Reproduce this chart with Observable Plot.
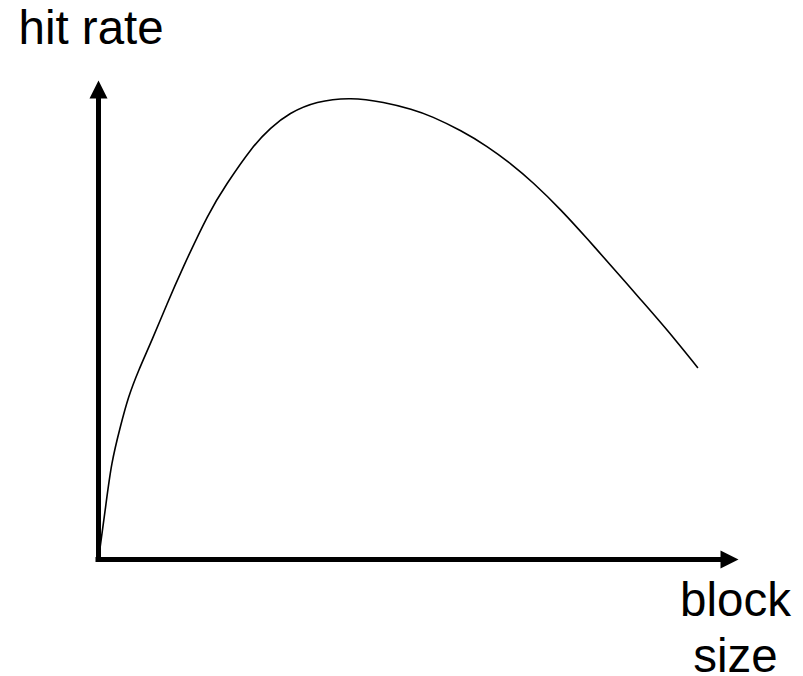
<!DOCTYPE html>
<html><head><meta charset="utf-8">
<script src="https://cdn.jsdelivr.net/npm/d3@7"></script>
<script src="https://cdn.jsdelivr.net/npm/@observablehq/plot@0.6"></script>
<style>html,body{margin:0;padding:0;background:#fff}</style>
</head><body><div id="chart"></div>
<script>
// (arbitrary units 0–10 on both axes)
const blockSize = [0, 0.11, 0.21, 0.34, 0.47, 0.63, 0.84, 1.07, 1.33, 1.70, 2.01, 2.38, 2.69, 3.00, 3.42, 3.94, 4.45, 4.88, 5.23, 5.66, 6.07, 6.44, 6.80, 7.22, 7.64, 8.05, 8.47, 8.89, 9.36];
const hitRate   = [0, 1.09, 2.00, 2.76, 3.38, 3.95, 4.60, 5.33, 6.12, 7.15, 7.85, 8.55, 9.00, 9.31, 9.54, 9.62, 9.54, 9.40, 9.23, 8.95, 8.62, 8.26, 7.85, 7.30, 6.69, 6.07, 5.43, 4.78, 4.01];
const yLabel = "hit rate";
const xLabel = "block size";
const axisMax = 10;

const curve = blockSize.map((x, i) => ({x, y: hitRate[i]}));

// filled triangular arrowhead, tip at the anchor point
const arrowHead = {
  draw(ctx) {
    ctx.moveTo(0, 0);
    ctx.lineTo(9, 18);
    ctx.lineTo(-9, 18);
    ctx.closePath();
  }
};

const font = "Liberation Sans, Arial, Helvetica, sans-serif";

const chart = Plot.plot({
  width: 803,
  height: 676,
  marginLeft: 98,
  marginRight: 65,
  marginTop: 80,
  marginBottom: 117,
  x: {domain: [0, axisMax], axis: null},
  y: {domain: [0, axisMax], axis: null},
  style: {background: "white"},
  marks: [
    Plot.line(curve, {x: "x", y: "y", curve: "natural", stroke: "black", strokeWidth: 1.6}),
    Plot.ruleX([0], {y1: axisMax, y2: 0, insetTop: 16, stroke: "black", strokeWidth: 5, strokeLinecap: "square"}),
    Plot.ruleY([0], {x1: 0, x2: axisMax, insetRight: 16, stroke: "black", strokeWidth: 5, strokeLinecap: "square"}),
    Plot.dot([{x: 0, y: axisMax}], {x: "x", y: "y", symbol: arrowHead, r: 9, fill: "black", stroke: "none"}),
    Plot.dot([{x: axisMax, y: 0}], {x: "x", y: "y", symbol: arrowHead, r: 9, rotate: 90, fill: "black", stroke: "none"}),
    Plot.text([yLabel], {frameAnchor: "top-left", text: d => d, dx: -80, dy: -70, lineAnchor: "top", textAnchor: "start", fontSize: 47.5, fontFamily: font, fill: "black"}),
    Plot.text([xLabel], {x: axisMax, y: 0, text: d => d, dx: -3, dy: 17, lineAnchor: "top", textAnchor: "middle", lineWidth: 3, lineHeight: 1.17, fontSize: 47.5, fontFamily: font, fill: "black"})
  ]
});
document.getElementById("chart").appendChild(chart);
</script>
</body></html>
